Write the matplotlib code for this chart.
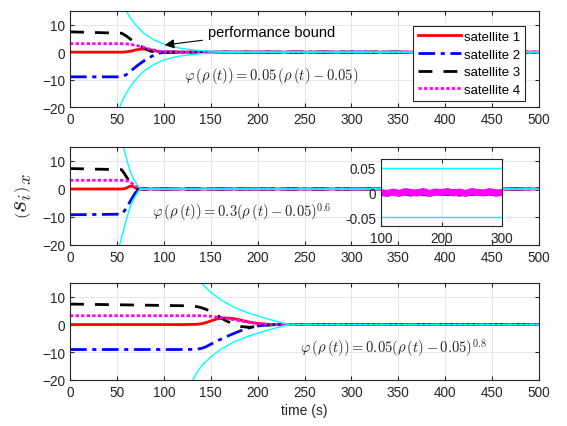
import matplotlib
matplotlib.use("Agg")
import matplotlib.pyplot as plt

plt.rcParams['font.family'] = ['Liberation Sans', 'DejaVu Sans']
plt.rcParams['mathtext.fontset'] = 'cm'

# ---------------- data ----------------
# top panel
t1_b = [48, 53, 56, 60, 65, 70, 75, 80, 90, 100, 110, 120, 130, 140, 150, 170, 200, 500]
r1_b = [28, 20, 17.5, 15, 12.2, 10, 8.1, 6.6, 4.4, 2.9, 1.9, 1.3, 0.85, 0.55, 0.37, 0.17, 0.07, 0.05]
t1 = [0, 55, 60, 65, 70, 75, 80, 85, 90, 95, 100, 110, 120, 500]
s1_1 = [0, 0, 0.1, 0.4, 0.8, 1.1, 1.1, 0.9, 0.5, 0.2, 0.05, 0, 0, 0]
s1_2 = [-9, -9, -8.2, -6.8, -5.4, -4.1, -2.9, -1.9, -1.0, -0.4, -0.05, 0, 0, 0]
s1_3 = [7.4, 6.9, 5.9, 4.6, 3.3, 2.2, 1.3, 0.5, 0.1, -0.1, -0.05, 0, 0, 0]
s1_4 = [3.1, 3.1, 3.0, 2.8, 2.5, 2.1, 1.6, 1.1, 0.7, 0.35, 0.15, 0.03, 0, 0]

# middle panel
t2_b = [48, 53, 55, 57, 60, 64, 68, 72, 75, 500]
r2_b = [30, 20, 17, 15, 11, 6.5, 3.5, 1.2, 0.05, 0.05]
t2 = [0, 55, 58, 61, 64, 67, 70, 73, 76, 500]
s2_1 = [0, 0, 0.1, 0.5, 1.0, 0.9, 0.4, 0.1, 0, 0]
s2_2 = [-9.2, -9.0, -7.8, -6.3, -4.5, -2.8, -1.2, -0.3, 0, 0]
s2_3 = [7.3, 6.9, 5.5, 3.9, 2.4, 1.2, 0.4, 0.05, 0, 0]
s2_4 = [3.1, 3.1, 3.0, 2.9, 2.5, 1.8, 1.0, 0.3, 0, 0]

# bottom panel
t3_b = [125, 131, 135, 140, 150, 160, 174, 190, 210, 231, 250, 500]
r3_b = [27, 20, 17.5, 15, 11.7, 9.1, 6.4, 4.2, 2.1, 0.2, 0.06, 0.05]
t3 = [0, 60, 120, 135, 140, 145, 150, 157, 165, 174, 182, 191, 200, 210, 220, 500]
s3_1 = [0, 0, 0, 0.1, 0.3, 0.7, 1.3, 2.1, 2.4, 2.2, 1.6, 0.9, 0.4, 0.1, 0, 0]
s3_2 = [-9, -9, -9, -8.9, -8.6, -8.0, -7.1, -5.9, -4.6, -3.3, -2.2, -1.2, -0.5, -0.1, 0, 0]
s3_3 = [7.4, 7.1, 6.8, 6.5, 6.1, 5.5, 4.7, 3.3, 1.6, 0.2, -0.7, -1.0, -0.7, -0.2, 0, 0]
s3_4 = [3.2, 3.2, 3.2, 3.2, 3.2, 3.1, 3.0, 2.7, 2.3, 1.8, 1.3, 0.8, 0.4, 0.1, 0, 0]

# inset (zoom of middle panel, t = 100..300)
t_in = [100, 110, 120, 130, 140, 150, 160, 170, 180, 190, 200, 210, 220, 230, 240, 250, 260, 270, 280, 290, 300]
in_1 = [0.001, -0.002, 0.002, -0.001, 0.003, -0.002, 0.001, 0.002, -0.003, 0.001, 0.002, -0.001, 0.003, -0.002, 0.001, -0.002, 0.002, 0.001, -0.001, 0.002, 0.0]
in_2 = [-0.002, -0.004, -0.001, -0.003, -0.002, -0.004, -0.001, -0.003, -0.004, -0.002, -0.001, -0.003, -0.002, -0.004, -0.002, -0.003, -0.001, -0.003, -0.002, -0.004, -0.002]
in_3 = [0.002, -0.003, 0.001, -0.002, 0.0, -0.003, 0.002, -0.001, -0.002, 0.001, -0.003, 0.0, 0.002, -0.002, 0.001, -0.001, 0.0, -0.002, 0.001, -0.001, 0.001]
in_4 = [0.0, -0.002, 0.001, -0.002, 0.002, 0.0, -0.001, 0.002, -0.002, 0.001, 0.0, 0.002, -0.001, 0.001, -0.002, 0.002, 0.0, -0.001, 0.002, -0.001, 0.0]
in_bound = 0.05

labels = ['satellite 1', 'satellite 2', 'satellite 3', 'satellite 4']
xticks = [0, 50, 100, 150, 200, 250, 300, 350, 400, 450, 500]
yticks = [-20, -10, 0, 10]

cyan = '#00FFFF'
styles = [dict(color='#FF0000', ls='-', lw=2.0),
          dict(color='#0000FF', ls=(0, (6, 2, 1.5, 2)), lw=2.0),
          dict(color='#000000', ls=(0, (5, 4)), lw=2.0),
          dict(color='#FF00FF', ls=(0, (1.2, 0.8)), lw=2.0)]

fig = plt.figure(figsize=(5.67, 4.27), dpi=100, facecolor='white')
W, H = 567, 427

def add_ax(x0, y0, x1, y1):
    return fig.add_axes([x0 / W, 1 - y1 / H, (x1 - x0) / W, (y1 - y0) / H])

axes = [add_ax(70, 12, 539, 108), add_ax(70, 148, 539, 246), add_ax(70, 284, 539, 381)]
panels = [(t1_b, r1_b, t1, [s1_1, s1_2, s1_3, s1_4]),
          (t2_b, r2_b, t2, [s2_1, s2_2, s2_3, s2_4]),
          (t3_b, r3_b, t3, [s3_1, s3_2, s3_3, s3_4])]

def style_axes(ax):
    ax.tick_params(direction='in', labelsize=9.8, colors='#262626', length=3,
                   top=True, right=True, labeltop=False, labelright=False)
    for sp in ax.spines.values():
        sp.set_color('#262626')
        sp.set_linewidth(0.8)
    ax.grid(True, color='#E3E3E3', lw=0.6)
    ax.set_axisbelow(True)

for ax, (tb, rb, t, ss) in zip(axes, panels):
    for s, st, lab in zip(ss, styles, labels):
        ax.plot(t, s, label=lab, **st)
    ax.plot(tb, rb, color=cyan, lw=1.0)
    ax.plot(tb, [-v for v in rb], color=cyan, lw=1.0)
    ax.set_xlim(0, 500)
    ax.set_ylim(-20, 15)
    ax.set_xticks(xticks)
    ax.set_yticks(yticks)
    style_axes(ax)

# legend on top panel
leg = axes[0].legend(loc='upper right', bbox_to_anchor=(0.970, 0.845), fontsize=9.5,
                     frameon=True, fancybox=False, edgecolor='#262626', framealpha=1,
                     handlelength=3.3, handletextpad=0.2, borderpad=0.35, labelspacing=0.42,
                     borderaxespad=0)
leg.get_frame().set_linewidth(0.8)

# annotations
axes[0].annotate('performance bound', xy=(101, 2.6), xytext=(147, 7.5), fontsize=10.5,
                 va='center', ha='left',
                 arrowprops=dict(arrowstyle='-|>', color='black', lw=0.8,
                                 mutation_scale=14, shrinkA=2, shrinkB=0))
axes[0].text(122, -8.4, r'$\varphi\,(\rho\,(t))=0.05\,(\rho\,(t)-0.05)$', fontsize=10.5,
             va='center', ha='left', color='#262626')
axes[1].text(87, -8.0, r'$\varphi\,(\rho\,(t))=0.3(\rho\,(t)-0.05)^{0.6}$', fontsize=10.5,
             va='center', ha='left', color='#262626')
axes[2].text(245, -8.2, r'$\varphi\,(\rho\,(t))=0.05(\rho\,(t)-0.05)^{0.8}$', fontsize=10.5,
             va='center', ha='left', color='#262626')

axes[2].set_xlabel('time (s)', fontsize=10, color='#262626', labelpad=3)
fig.text(22 / W, 1 - 196 / H, r'$\left(s_i\right)_x$', rotation=90, fontsize=19,
         va='center', ha='center', color='#262626')

# inset
axi = add_ax(381, 160, 502, 227)
for s, st in zip([in_1, in_2, in_3], styles[:3]):
    axi.plot(t_in, s, color=st['color'], lw=3.0)
axi.plot(t_in, in_4, color='#FF00FF', lw=5.0)
axi.axhline(in_bound, color=cyan, lw=1.0)
axi.axhline(-in_bound, color=cyan, lw=1.0)
axi.set_xlim(100, 300)
axi.set_ylim(-0.068, 0.068)
axi.set_xticks([100, 200, 300])
axi.set_yticks([-0.05, 0, 0.05])
axi.set_yticklabels(['-0.05', '0', '0.05'])
style_axes(axi)
axi.set_facecolor('white')

fig.savefig('out.png', dpi=100, facecolor='white')
